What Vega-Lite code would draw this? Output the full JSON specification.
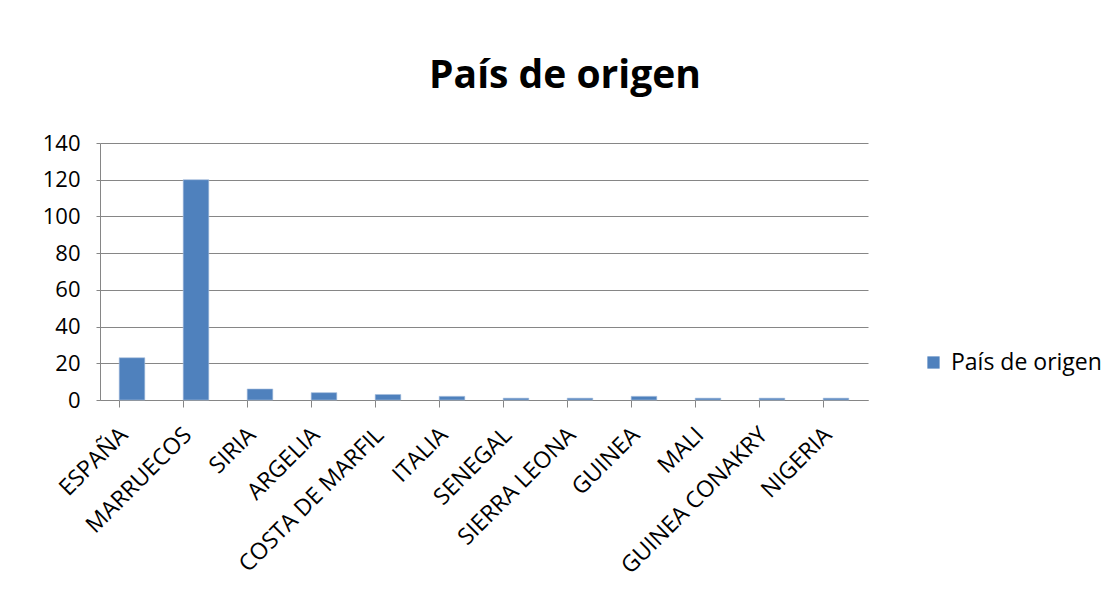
{
  "$schema": "https://vega.github.io/schema/vega-lite/v6.json",
  "autosize": "none",
  "width": 768,
  "height": 257,
  "padding": {"left": 100, "top": 143, "right": 242, "bottom": 196},
  "background": "white",
  "title": {
    "text": "País de origen",
    "font": "Open Sans",
    "fontSize": 39,
    "fontWeight": "bold",
    "color": "#000000",
    "anchor": "middle",
    "frame": "group",
    "dx": 81,
    "offset": 36
  },
  "data": {
    "values": [
      {"pais": "ESPAÑA", "valor": 23, "serie": "País de origen"},
      {"pais": "MARRUECOS", "valor": 120, "serie": "País de origen"},
      {"pais": "SIRIA", "valor": 6, "serie": "País de origen"},
      {"pais": "ARGELIA", "valor": 4, "serie": "País de origen"},
      {"pais": "COSTA DE MARFIL", "valor": 3, "serie": "País de origen"},
      {"pais": "ITALIA", "valor": 2, "serie": "País de origen"},
      {"pais": "SENEGAL", "valor": 1, "serie": "País de origen"},
      {"pais": "SIERRA LEONA", "valor": 1, "serie": "País de origen"},
      {"pais": "GUINEA", "valor": 2, "serie": "País de origen"},
      {"pais": "MALI", "valor": 1, "serie": "País de origen"},
      {"pais": "GUINEA CONAKRY", "valor": 1, "serie": "País de origen"},
      {"pais": "NIGERIA", "valor": 1, "serie": "País de origen"}
    ]
  },
  "mark": {"type": "bar", "stroke": "#A7C0DE", "strokeWidth": 0.6},
  "encoding": {
    "x": {
      "field": "pais",
      "type": "nominal",
      "sort": null,
      "title": null,
      "scale": {"paddingInner": 0.6, "paddingOuter": 0.3},
      "axis": {
        "bandPosition": 0,
        "labelOffset": -8,
        "labelAngle": -45,
        "labelAlign": "right",
        "labelBaseline": "middle",
        "labelPadding": 24,
        "labelLimit": 500,
        "labelFont": "Open Sans",
        "labelFontSize": 23,
        "labelColor": "#000000",
        "labelOverlap": false,
        "tickSize": 7,
        "tickColor": "#868686",
        "domainColor": "#868686",
        "grid": false
      }
    },
    "y": {
      "field": "valor",
      "type": "quantitative",
      "title": null,
      "scale": {"domain": [0, 140]},
      "axis": {
        "values": [0, 20, 40, 60, 80, 100, 120, 140],
        "labelFont": "Open Sans",
        "labelFontSize": 22,
        "labelColor": "#000000",
        "labelPadding": 16,
        "tickSize": 4,
        "tickColor": "#868686",
        "domainColor": "#868686",
        "gridColor": "#868686",
        "grid": true
      }
    },
    "color": {
      "field": "serie",
      "type": "nominal",
      "scale": {"range": ["#4F81BD"]},
      "legend": {
        "title": null,
        "orient": "none",
        "legendX": 822,
        "legendY": 208,
        "symbolType": "square",
        "symbolSize": 150,
        "symbolStrokeWidth": 0,
        "labelFont": "Open Sans",
        "labelFontSize": 23,
        "labelColor": "#000000",
        "labelOffset": 6
      }
    }
  },
  "config": {"view": {"stroke": null}}
}
